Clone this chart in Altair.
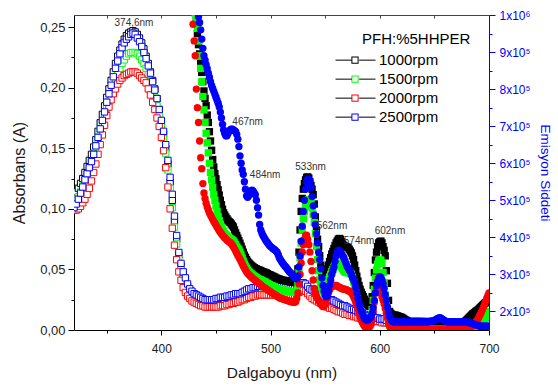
import altair as alt
import pandas as pd

SERIES = ["1000rpm", "1500rpm", "2000rpm", "2500rpm"]
COLORS = ["#000000", "#00FF00", "#FF0000", "#0000FF"]
EM_SHAPES = ["square", "square", "circle", "circle"]

# ---------------- Absorbance (left axis), 320..700 nm step 2 ----------------
abs_wl = list(range(320, 701, 2))
abs_1000 = [
    0.111, 0.114, 0.117, 0.121, 0.125, 0.130, 0.135, 0.140, 0.145, 0.151,
    0.157, 0.164, 0.171, 0.178, 0.185, 0.192, 0.199, 0.206, 0.213, 0.220,
    0.226, 0.231, 0.236, 0.240, 0.243, 0.245, 0.246, 0.247, 0.246, 0.244,
    0.241, 0.237, 0.232, 0.226, 0.220, 0.213, 0.206, 0.199, 0.191, 0.182,
    0.172, 0.162, 0.150, 0.137, 0.122, 0.107, 0.090, 0.075, 0.062, 0.053,
    0.046, 0.041, 0.036, 0.033, 0.030, 0.029, 0.028, 0.027, 0.026, 0.025,
    0.024, 0.024, 0.024, 0.024, 0.024, 0.025, 0.025, 0.025, 0.026, 0.026,
    0.026, 0.027, 0.027, 0.028, 0.028, 0.029, 0.029, 0.030, 0.030, 0.031,
    0.031, 0.032, 0.032, 0.033, 0.033, 0.034, 0.034, 0.034, 0.035, 0.035,
    0.035, 0.035, 0.035, 0.035, 0.035, 0.034, 0.034, 0.034, 0.033, 0.033,
    0.033, 0.034, 0.035, 0.036, 0.037, 0.037, 0.036, 0.034, 0.032, 0.031,
    0.030, 0.029, 0.028, 0.027, 0.026, 0.025, 0.024, 0.023, 0.023, 0.022,
    0.021, 0.020, 0.019, 0.018, 0.018, 0.017, 0.016, 0.016, 0.015, 0.014,
    0.014, 0.013, 0.013, 0.012, 0.011, 0.011, 0.010, 0.010, 0.009, 0.009,
    0.009, 0.008, 0.008, 0.008, 0.008, 0.007, 0.007, 0.007, 0.007, 0.007,
    0.007, 0.007, 0.007, 0.007, 0.007, 0.007, 0.007, 0.007, 0.007, 0.007,
    0.006, 0.006, 0.006, 0.006, 0.006, 0.006, 0.006, 0.006, 0.006, 0.006,
    0.006, 0.006, 0.006, 0.006, 0.006, 0.006, 0.006, 0.006, 0.006, 0.006,
    0.006, 0.006, 0.005, 0.005, 0.005, 0.005, 0.005, 0.005, 0.005, 0.005,
    0.005,
]
abs_1500 = [
    0.104, 0.107, 0.110, 0.114, 0.119, 0.124, 0.129, 0.134, 0.139, 0.145,
    0.151, 0.157, 0.164, 0.170, 0.177, 0.183, 0.189, 0.195, 0.201, 0.206,
    0.211, 0.216, 0.220, 0.223, 0.226, 0.228, 0.229, 0.229, 0.229, 0.228,
    0.226, 0.223, 0.220, 0.216, 0.211, 0.205, 0.199, 0.192, 0.185, 0.177,
    0.168, 0.158, 0.146, 0.132, 0.117, 0.101, 0.085, 0.071, 0.059, 0.050,
    0.043, 0.037, 0.033, 0.030, 0.028, 0.026, 0.025, 0.024, 0.023, 0.022,
    0.021, 0.021, 0.021, 0.021, 0.021, 0.021, 0.022, 0.022, 0.022, 0.023,
    0.023, 0.023, 0.024, 0.024, 0.025, 0.025, 0.026, 0.026, 0.027, 0.028,
    0.028, 0.029, 0.029, 0.030, 0.030, 0.031, 0.031, 0.031, 0.032, 0.032,
    0.032, 0.032, 0.032, 0.032, 0.032, 0.031, 0.031, 0.031, 0.030, 0.030,
    0.030, 0.031, 0.032, 0.033, 0.034, 0.034, 0.033, 0.031, 0.029, 0.028,
    0.027, 0.026, 0.025, 0.024, 0.023, 0.022, 0.021, 0.021, 0.020, 0.019,
    0.018, 0.018, 0.017, 0.016, 0.016, 0.015, 0.014, 0.014, 0.013, 0.013,
    0.012, 0.012, 0.011, 0.011, 0.010, 0.010, 0.009, 0.009, 0.008, 0.008,
    0.008, 0.007, 0.007, 0.007, 0.007, 0.006, 0.006, 0.006, 0.006, 0.006,
    0.006, 0.006, 0.006, 0.006, 0.006, 0.006, 0.006, 0.006, 0.006, 0.006,
    0.005, 0.005, 0.005, 0.005, 0.005, 0.005, 0.005, 0.005, 0.005, 0.005,
    0.005, 0.005, 0.005, 0.005, 0.005, 0.005, 0.005, 0.005, 0.005, 0.005,
    0.005, 0.005, 0.005, 0.004, 0.004, 0.004, 0.004, 0.004, 0.004, 0.004,
    0.004,
]
abs_2000 = [
    0.099, 0.099, 0.100, 0.102, 0.105, 0.108, 0.112, 0.117, 0.123, 0.130,
    0.137, 0.145, 0.153, 0.161, 0.169, 0.177, 0.184, 0.190, 0.195, 0.199,
    0.203, 0.206, 0.208, 0.210, 0.211, 0.212, 0.213, 0.213, 0.213, 0.212,
    0.210, 0.208, 0.206, 0.204, 0.199, 0.194, 0.188, 0.182, 0.175, 0.168,
    0.159, 0.148, 0.134, 0.118, 0.100, 0.084, 0.070, 0.058, 0.048, 0.041,
    0.035, 0.031, 0.028, 0.026, 0.024, 0.023, 0.022, 0.021, 0.020, 0.020,
    0.019, 0.019, 0.019, 0.019, 0.019, 0.019, 0.019, 0.020, 0.020, 0.020,
    0.021, 0.021, 0.022, 0.022, 0.023, 0.023, 0.024, 0.025, 0.025, 0.026,
    0.027, 0.027, 0.028, 0.028, 0.029, 0.029, 0.029, 0.029, 0.029, 0.029,
    0.029, 0.029, 0.029, 0.029, 0.028, 0.028, 0.028, 0.028, 0.028, 0.028,
    0.028, 0.029, 0.030, 0.031, 0.032, 0.033, 0.032, 0.030, 0.028, 0.026,
    0.025, 0.024, 0.023, 0.022, 0.021, 0.020, 0.019, 0.018, 0.018, 0.017,
    0.016, 0.015, 0.015, 0.014, 0.013, 0.013, 0.012, 0.012, 0.011, 0.011,
    0.010, 0.010, 0.009, 0.009, 0.009, 0.008, 0.008, 0.008, 0.007, 0.007,
    0.007, 0.006, 0.006, 0.006, 0.006, 0.006, 0.005, 0.005, 0.005, 0.005,
    0.005, 0.005, 0.005, 0.005, 0.005, 0.005, 0.005, 0.005, 0.005, 0.005,
    0.005, 0.005, 0.005, 0.005, 0.005, 0.005, 0.005, 0.005, 0.005, 0.005,
    0.004, 0.004, 0.004, 0.004, 0.004, 0.004, 0.004, 0.004, 0.004, 0.004,
    0.004, 0.004, 0.004, 0.004, 0.004, 0.004, 0.004, 0.004, 0.004, 0.004,
    0.004,
]
abs_2500 = [
    0.101, 0.104, 0.108, 0.113, 0.118, 0.124, 0.129, 0.134, 0.139, 0.145,
    0.152, 0.159, 0.166, 0.173, 0.180, 0.188, 0.195, 0.202, 0.209, 0.216,
    0.222, 0.228, 0.233, 0.237, 0.240, 0.242, 0.244, 0.245, 0.244, 0.241,
    0.238, 0.234, 0.229, 0.224, 0.218, 0.212, 0.205, 0.198, 0.191, 0.182,
    0.173, 0.164, 0.153, 0.140, 0.126, 0.112, 0.094, 0.078, 0.064, 0.055,
    0.048, 0.043, 0.038, 0.034, 0.032, 0.030, 0.029, 0.028, 0.027, 0.026,
    0.025, 0.025, 0.025, 0.025, 0.025, 0.026, 0.026, 0.027, 0.027, 0.027,
    0.028, 0.028, 0.029, 0.029, 0.030, 0.030, 0.030, 0.031, 0.032, 0.033,
    0.034, 0.034, 0.035, 0.035, 0.036, 0.036, 0.036, 0.037, 0.037, 0.037,
    0.037, 0.037, 0.037, 0.037, 0.037, 0.036, 0.036, 0.036, 0.035, 0.035,
    0.035, 0.036, 0.037, 0.038, 0.039, 0.039, 0.038, 0.036, 0.034, 0.033,
    0.032, 0.031, 0.030, 0.029, 0.028, 0.027, 0.026, 0.025, 0.025, 0.024,
    0.023, 0.022, 0.021, 0.020, 0.020, 0.019, 0.018, 0.017, 0.017, 0.016,
    0.015, 0.014, 0.014, 0.013, 0.012, 0.012, 0.011, 0.011, 0.010, 0.010,
    0.009, 0.009, 0.009, 0.008, 0.008, 0.008, 0.008, 0.008, 0.007, 0.007,
    0.007, 0.007, 0.007, 0.007, 0.007, 0.007, 0.007, 0.007, 0.007, 0.007,
    0.007, 0.007, 0.007, 0.006, 0.006, 0.006, 0.006, 0.006, 0.006, 0.006,
    0.006, 0.006, 0.006, 0.006, 0.006, 0.006, 0.006, 0.006, 0.006, 0.006,
    0.006, 0.006, 0.006, 0.005, 0.005, 0.005, 0.005, 0.005, 0.005, 0.005,
    0.005,
]

# ---------------- Emission (right axis), 421..700 nm step 1, units of 1e5 ----------------
em_wl = list(range(421, 701))
em_1000 = [
    13.0, 12.8, 12.6, 12.4, 12.2, 12.0, 11.7, 11.4, 11.0, 10.6,
    10.2, 9.85, 9.5, 9.2, 8.95, 8.7, 8.45, 8.2, 7.95, 7.75,
    7.55, 7.3, 7.1, 6.85, 6.6, 6.35, 6.1, 5.9, 5.72, 5.58,
    5.42, 5.28, 5.14, 5.0, 4.88, 4.76, 4.66, 4.6, 4.55, 4.5,
    4.46, 4.42, 4.4, 4.36, 4.32, 4.28, 4.2, 4.12, 4.05, 3.98,
    3.91, 3.84, 3.76, 3.68, 3.6, 3.52, 3.46, 3.4, 3.35, 3.31,
    3.28, 3.25, 3.22, 3.2, 3.18, 3.16, 3.15, 3.13, 3.12, 3.11,
    3.1, 3.08, 3.07, 3.06, 3.05, 3.04, 3.02, 3.0, 2.99, 2.98,
    2.96, 2.95, 2.94, 2.92, 2.9, 2.89, 2.88, 2.87, 2.86, 2.85,
    2.84, 2.84, 2.83, 2.83, 2.82, 2.82, 2.81, 2.8, 2.8, 2.79,
    2.79, 2.78, 2.8, 2.9, 3.15, 3.6, 4.2, 4.7, 5.05, 5.3,
    5.45, 5.55, 5.62, 5.63, 5.6, 5.5, 5.4, 5.3, 5.15, 4.9,
    4.55, 4.2, 3.95, 3.75, 3.5, 3.25, 3.05, 2.95, 2.92, 2.95,
    3.05, 3.15, 3.25, 3.35, 3.45, 3.55, 3.62, 3.7, 3.78, 3.85,
    3.9, 3.95, 3.97, 3.95, 3.88, 3.82, 3.78, 3.76, 3.75, 3.74,
    3.72, 3.68, 3.63, 3.58, 3.5, 3.4, 3.25, 3.1, 2.95, 2.82,
    2.7, 2.6, 2.52, 2.45, 2.4, 2.33, 2.27, 2.22, 2.18, 2.15,
    2.14, 2.2, 2.4, 2.7, 3.05, 3.39, 3.6, 3.75, 3.85, 3.88,
    3.9, 3.85, 3.75, 3.65, 3.5, 3.1, 2.76, 2.3, 2.0, 1.95,
    1.92, 1.9, 1.9, 1.9, 1.89, 1.88, 1.87, 1.86, 1.85, 1.84,
    1.82, 1.8, 1.78, 1.76, 1.74, 1.72, 1.7, 1.68, 1.66, 1.65,
    1.64, 1.63, 1.62, 1.61, 1.6, 1.6, 1.6, 1.6, 1.6, 1.6,
    1.6, 1.6, 1.6, 1.6, 1.6, 1.6, 1.6, 1.6, 1.6, 1.6,
    1.6, 1.6, 1.6, 1.6, 1.6, 1.6, 1.6, 1.6, 1.6, 1.6,
    1.6, 1.6, 1.6, 1.6, 1.6, 1.6, 1.6, 1.6, 1.6, 1.6,
    1.6, 1.61, 1.62, 1.63, 1.65, 1.67, 1.69, 1.72, 1.75, 1.78,
    1.81, 1.84, 1.87, 1.9, 1.93, 1.95, 1.97, 2.0, 2.02, 2.04,
    2.07, 2.1, 2.13, 2.16, 2.19, 2.22, 2.24, 2.27, 2.29, 2.3,
]
em_1500 = [
    13.0, 12.7, 12.4, 12.1, 11.8, 11.5, 11.2, 10.9, 10.6, 10.3,
    10.05, 9.85, 9.64, 9.3, 8.9, 8.56, 8.2, 7.8, 7.44, 7.1,
    6.81, 6.55, 6.28, 6.0, 5.75, 5.55, 5.35, 5.15, 5.0, 4.85,
    4.7, 4.56, 4.45, 4.35, 4.27, 4.2, 4.15, 4.1, 4.07, 4.04,
    4.01, 3.98, 3.96, 3.94, 3.92, 3.9, 3.85, 3.8, 3.74, 3.7,
    3.66, 3.6, 3.52, 3.44, 3.36, 3.28, 3.22, 3.17, 3.12, 3.08,
    3.05, 3.02, 3.0, 2.97, 2.95, 2.93, 2.91, 2.89, 2.87, 2.86,
    2.85, 2.83, 2.82, 2.8, 2.79, 2.77, 2.75, 2.73, 2.72, 2.7,
    2.69, 2.68, 2.66, 2.64, 2.63, 2.62, 2.61, 2.6, 2.59, 2.58,
    2.57, 2.57, 2.56, 2.56, 2.55, 2.55, 2.54, 2.54, 2.53, 2.53,
    2.53, 2.52, 2.52, 2.55, 2.75, 3.05, 3.45, 3.85, 4.2, 4.5,
    4.7, 4.85, 4.95, 5.0, 5.02, 5.0, 4.92, 4.8, 4.62, 4.4,
    4.1, 3.75, 3.4, 3.1, 2.85, 2.68, 2.58, 2.55, 2.56, 2.62,
    2.7, 2.78, 2.86, 2.93, 3.0, 3.07, 3.13, 3.19, 3.24, 3.28,
    3.3, 3.3, 3.28, 3.24, 3.2, 3.15, 3.1, 3.07, 3.06, 3.05,
    3.05, 3.04, 3.03, 3.0, 2.92, 2.8, 2.65, 2.5, 2.35, 2.2,
    2.1, 2.0, 1.92, 1.86, 1.8, 1.75, 1.71, 1.68, 1.68, 1.7,
    1.74, 1.85, 2.05, 2.3, 2.6, 2.9, 3.12, 3.28, 3.36, 3.39,
    3.38, 3.3, 3.05, 2.76, 2.45, 2.15, 1.9, 1.72, 1.62, 1.57,
    1.55, 1.55, 1.55, 1.55, 1.55, 1.55, 1.55, 1.55, 1.55, 1.55,
    1.54, 1.54, 1.54, 1.54, 1.54, 1.54, 1.54, 1.54, 1.54, 1.54,
    1.53, 1.53, 1.53, 1.53, 1.53, 1.53, 1.53, 1.53, 1.53, 1.53,
    1.53, 1.53, 1.53, 1.53, 1.53, 1.53, 1.53, 1.53, 1.53, 1.53,
    1.53, 1.53, 1.53, 1.53, 1.53, 1.53, 1.53, 1.53, 1.53, 1.53,
    1.53, 1.53, 1.53, 1.53, 1.53, 1.53, 1.53, 1.53, 1.53, 1.53,
    1.53, 1.53, 1.53, 1.53, 1.53, 1.53, 1.53, 1.53, 1.53, 1.53,
    1.53, 1.53, 1.53, 1.53, 1.53, 1.53, 1.54, 1.55, 1.57, 1.59,
    1.62, 1.65, 1.68, 1.72, 1.76, 1.8, 1.85, 1.9, 1.95, 2.0,
]
em_2000 = [
    12.5, 12.2, 11.9, 11.6, 11.3, 11.0, 10.7, 10.35, 9.75, 9.3,
    8.9, 8.0, 7.5, 7.1, 6.6, 6.15, 5.85, 5.45, 5.2, 5.05,
    4.92, 4.82, 4.74, 4.66, 4.6, 4.54, 4.48, 4.43, 4.38, 4.33,
    4.28, 4.23, 4.18, 4.14, 4.1, 4.06, 4.02, 3.99, 3.96, 3.93,
    3.9, 3.88, 3.86, 3.83, 3.79, 3.74, 3.69, 3.63, 3.57, 3.51,
    3.46, 3.41, 3.35, 3.29, 3.23, 3.17, 3.12, 3.07, 3.03, 3.0,
    2.97, 2.94, 2.91, 2.89, 2.86, 2.84, 2.81, 2.79, 2.76, 2.74,
    2.72, 2.69, 2.67, 2.65, 2.63, 2.61, 2.59, 2.57, 2.55, 2.53,
    2.51, 2.49, 2.47, 2.45, 2.43, 2.41, 2.39, 2.38, 2.36, 2.35,
    2.34, 2.33, 2.32, 2.31, 2.3, 2.29, 2.28, 2.27, 2.26, 2.26,
    2.25, 2.25, 2.26, 2.35, 2.5, 2.75, 3.0, 3.3, 3.6, 3.8,
    3.95, 4.05, 4.06, 3.95, 3.8, 3.6, 3.35, 3.1, 2.85, 2.62,
    2.5, 2.4, 2.34, 2.3, 2.25, 2.2, 2.16, 2.13, 2.14, 2.2,
    2.3, 2.4, 2.5, 2.58, 2.64, 2.67, 2.69, 2.7, 2.7, 2.7,
    2.69, 2.67, 2.65, 2.64, 2.62, 2.61, 2.6, 2.6, 2.59, 2.58,
    2.56, 2.55, 2.53, 2.5, 2.46, 2.4, 2.33, 2.25, 2.15, 2.05,
    1.95, 1.85, 1.77, 1.7, 1.65, 1.6, 1.57, 1.56, 1.56, 1.56,
    1.6, 1.65, 1.8, 2.0, 2.25, 2.5, 2.62, 2.67, 2.66, 2.6,
    2.5, 2.4, 2.3, 2.2, 2.08, 1.95, 1.82, 1.68, 1.6, 1.55,
    1.53, 1.53, 1.53, 1.53, 1.53, 1.53, 1.53, 1.53, 1.53, 1.53,
    1.52, 1.52, 1.52, 1.52, 1.52, 1.52, 1.52, 1.52, 1.52, 1.52,
    1.52, 1.52, 1.52, 1.52, 1.52, 1.52, 1.52, 1.52, 1.52, 1.52,
    1.52, 1.52, 1.52, 1.52, 1.52, 1.52, 1.52, 1.52, 1.52, 1.52,
    1.52, 1.52, 1.52, 1.52, 1.52, 1.52, 1.52, 1.52, 1.52, 1.52,
    1.52, 1.52, 1.52, 1.52, 1.52, 1.52, 1.52, 1.52, 1.52, 1.52,
    1.52, 1.52, 1.52, 1.52, 1.52, 1.52, 1.52, 1.52, 1.52, 1.52,
    1.53, 1.55, 1.57, 1.59, 1.62, 1.65, 1.68, 1.72, 1.76, 1.8,
    1.86, 1.92, 1.98, 2.05, 2.12, 2.2, 2.28, 2.36, 2.43, 2.5,
]
em_2500 = [
    13.5, 13.2, 12.9, 12.6, 12.3, 12.0, 11.6, 11.3, 11.0, 10.75,
    10.5, 10.3, 10.1, 9.95, 9.8, 9.6, 9.35, 9.1, 8.9, 8.78,
    8.66, 8.55, 8.43, 8.32, 8.2, 8.1, 8.02, 7.94, 7.86, 7.78,
    7.7, 7.62, 7.52, 7.38, 7.22, 7.05, 6.9, 6.8, 6.74, 6.74,
    6.8, 6.86, 6.9, 6.92, 6.92, 6.9, 6.88, 6.85, 6.78, 6.65,
    6.45, 6.2, 6.0, 5.82, 5.7, 5.5, 5.3, 5.12, 5.08, 5.12,
    5.2, 5.25, 5.27, 5.25, 5.2, 5.15, 5.0, 4.8, 4.6, 4.35,
    4.2, 4.12, 4.05, 4.0, 3.95, 3.9, 3.86, 3.82, 3.78, 3.75,
    3.73, 3.7, 3.68, 3.66, 3.63, 3.6, 3.53, 3.45, 3.4, 3.35,
    3.31, 3.27, 3.23, 3.2, 3.16, 3.12, 3.08, 3.05, 3.02, 3.0,
    2.96, 2.92, 2.9, 2.88, 2.95, 3.2, 3.5, 3.9, 4.3, 4.7,
    5.0, 5.3, 5.5, 5.57, 5.58, 5.52, 5.35, 5.1, 4.85, 4.6,
    4.35, 4.1, 3.85, 3.6, 3.4, 3.15, 2.9, 2.7, 2.55, 2.45,
    2.4, 2.42, 2.55, 2.7, 2.85, 3.0, 3.1, 3.2, 3.35, 3.5,
    3.6, 3.65, 3.65, 3.6, 3.55, 3.5, 3.45, 3.38, 3.3, 3.22,
    3.17, 3.12, 3.08, 3.0, 2.92, 2.85, 2.78, 2.65, 2.5, 2.35,
    2.22, 2.12, 2.02, 1.95, 1.88, 1.82, 1.78, 1.77, 1.77, 1.8,
    1.83, 1.86, 1.95, 2.1, 2.3, 2.5, 2.7, 2.82, 2.9, 2.94,
    2.92, 2.85, 2.75, 2.62, 2.45, 2.3, 2.13, 1.98, 1.86, 1.78,
    1.74, 1.73, 1.72, 1.72, 1.72, 1.72, 1.72, 1.72, 1.72, 1.72,
    1.72, 1.72, 1.72, 1.72, 1.72, 1.72, 1.72, 1.72, 1.72, 1.72,
    1.72, 1.72, 1.72, 1.72, 1.72, 1.72, 1.72, 1.72, 1.72, 1.72,
    1.72, 1.72, 1.72, 1.72, 1.73, 1.73, 1.74, 1.74, 1.75, 1.76,
    1.77, 1.79, 1.81, 1.82, 1.83, 1.82, 1.8, 1.78, 1.76, 1.74,
    1.73, 1.72, 1.72, 1.72, 1.72, 1.72, 1.72, 1.72, 1.72, 1.72,
    1.72, 1.72, 1.72, 1.72, 1.72, 1.72, 1.72, 1.72, 1.72, 1.72,
    1.71, 1.7, 1.69, 1.68, 1.67, 1.66, 1.65, 1.64, 1.63, 1.62,
    1.61, 1.6, 1.6, 1.6, 1.6, 1.6, 1.6, 1.6, 1.6, 1.6,
]

# ---------------- Peak annotations ----------------
ann_text = ["374,6nm", "467nm", "484nm", "533nm", "562nm", "574nm", "602nm"]
ann_wl = [374.9, 479.0, 495.0, 536.6, 556.2, 581.0, 609.3]
ann_val = [9.78, 7.11, 5.68, 5.89, 4.30, 3.90, 4.17]  # 1e5 units

LEFT_TICKS = [0, 0.025, 0.05, 0.075, 0.1, 0.125, 0.15, 0.175, 0.2, 0.225, 0.25]
RIGHT_TICKS = [200000, 250000, 300000, 350000, 400000, 450000, 500000, 550000,
               600000, 650000, 700000, 750000, 800000, 850000, 900000, 950000, 1000000]
X_TICKS = [350, 400, 450, 500, 550, 600, 650, 700]
LEGEND_TITLE = "PFH:%5HHPER"

# ---------------- Build tables ----------------
abs_series = [abs_1000, abs_1500, abs_2000, abs_2500]
em_series = [em_1000, em_1500, em_2000, em_2500]
rows = []
for name, vals in zip(SERIES, abs_series):
    assert len(vals) == len(abs_wl), (name, len(vals))
    for w, v in zip(abs_wl, vals):
        rows.append({"wl": w, "value": v, "series": name})
abs_df = pd.DataFrame(rows)

rows = []
for name, vals in zip(SERIES, em_series):
    assert len(vals) == len(em_wl), (name, len(vals))
    for w, v in zip(em_wl, vals):
        rows.append({"wl": w, "value": v * 1e5, "series": name})
em_df = pd.DataFrame(rows)

ann_df = pd.DataFrame({"label": ann_text, "wl": ann_wl, "value": [v * 1e5 for v in ann_val]})
leg_df = pd.DataFrame({"series2": SERIES})
title_df = pd.DataFrame({"t": [LEGEND_TITLE]})

FONT = "Liberation Sans"
BLUE = "#0000FF"
# hollow square drawn as a filled ring (outer clockwise, inner counter-clockwise)
SQUARE_PATH = "M-0.18,-0.18H0.18V0.18H-0.18Z M-0.13,-0.13V0.13H0.13V-0.13Z"
LINE_PATH = "M-1,0H-0.18M0.18,0H1"

x_scale = alt.Scale(domain=[320, 700], nice=False, zero=False)
em_scale = alt.Scale(domain=[150000, 1000000], nice=False, zero=False)
color_scale = alt.Scale(domain=SERIES, range=COLORS)

common_legend = dict(
    orient="none", symbolSize=1600, clipHeight=16.3,
    rowPadding=2, labelFontSize=15, titleFontSize=15, titleFontWeight="normal",
    labelOffset=4, padding=0, titlePadding=5, labelFont=FONT, titleFont=FONT,
)
# coloured open squares + labels (no title; rows start below the title)
legend_a = alt.Legend(title=None, legendX=261, legendY=37, symbolType=SQUARE_PATH,
                      symbolStrokeWidth=0, labelColor="black",
                      **common_legend)
# black line pieces on either side of the squares
legend_b = alt.Legend(title=None, legendX=261, legendY=37, symbolType=LINE_PATH,
                      symbolStrokeWidth=1, symbolStrokeColor="black",
                      symbolFillColor="transparent", symbolOpacity=1, labelOpacity=0,
                      **common_legend)
# the visible title, offset to the right like in the original (single hidden entry)
legend_c = alt.Legend(title=LEGEND_TITLE, legendX=288, legendY=17, symbolOpacity=0,
                      labelOpacity=0, symbolStrokeColor="transparent",
                      symbolFillColor="transparent", titleColor="black", **common_legend)

bottom_axis = alt.Axis(
    orient="bottom", values=X_TICKS,
    labelExpr="datum.value % 100 == 0 ? datum.label : ''",
    tickSize={"condition": {"test": "datum.value % 100 == 0", "value": 5}, "value": 3},
    title="Dalgaboyu (nm)", titleFontSize=15.5, titleFontWeight="normal", titlePadding=11,
    labelFontSize=12, labelPadding=8, labelFlush=False, labelOverlap=False,
    domainColor="black", tickColor="black", labelColor="#1a1a1a", titleColor="#1a1a1a",
    grid=False, labelFont=FONT, titleFont=FONT,
)
top_axis = alt.Axis(
    orient="top", values=X_TICKS, labels=False, title=None, tickSize={"expr": "-3"},
    domainColor="#444444", tickColor="#444444", grid=False,
)
left_axis = alt.Axis(
    orient="left", values=LEFT_TICKS,
    labelExpr="round(datum.value*1000) % 50 == 0 ? replace(format(datum.value, '.2f'), '.', ',') : ''",
    tickSize={"condition": {"test": "round(datum.value*1000) % 50 == 0", "value": 6}, "value": 3},
    title="Absorbans (A)", titleFontSize=16, titleFontWeight="normal", titlePadding=12,
    labelFontSize=13, labelPadding=3, labelOverlap=False,
    domainColor="black", tickColor="black", labelColor="#1a1a1a", titleColor="#1a1a1a",
    grid=False, labelFont=FONT, titleFont=FONT,
)
right_axis = alt.Axis(
    orient="right", values=RIGHT_TICKS,
    labelExpr="datum.value >= 1000000 ? '1x10\u2076' : (round(datum.value/10000) % 10 == 0 ? format(datum.value/100000, 'd') + 'x10\u2075' : '')",
    tickSize={"condition": {"test": "round(datum.value/10000) % 10 == 0", "value": 6}, "value": 3},
    title="Emisyon Siddeti", titleFontSize=13.5, titleFontWeight="normal", titlePadding=8,
    titleAngle=90, labelFontSize=12, labelPadding=4, labelOverlap=False,
    domainColor=BLUE, tickColor=BLUE, labelColor=BLUE, titleColor=BLUE,
    grid=False, labelFont=FONT, titleFont=FONT,
)

abs_chart = alt.Chart(abs_df).mark_point(
    shape="square", filled=False, fill="white", size=40, strokeWidth=1, opacity=1, clip=True
).encode(
    x=alt.X("wl:Q", scale=x_scale, axis=bottom_axis),
    y=alt.Y("value:Q", scale=alt.Scale(domain=[0, 0.26], nice=False), axis=left_axis),
    stroke=alt.Stroke("series:N", scale=color_scale, legend=legend_a),
)

em_chart = alt.Chart(em_df).mark_point(
    filled=True, size=54, opacity=1, clip=True
).encode(
    x=alt.X("wl:Q", scale=x_scale, axis=top_axis),
    y=alt.Y("value:Q", scale=em_scale, axis=right_axis),
    color=alt.Color("series:N", scale=color_scale, legend=None),
    shape=alt.Shape("series:N", scale=alt.Scale(domain=SERIES, range=EM_SHAPES), legend=None),
)

text_chart = alt.Chart(ann_df).mark_text(
    fontSize=10, color="#333333", font=FONT, align="center", baseline="middle"
).encode(
    x=alt.X("wl:Q", scale=x_scale, axis=None),
    y=alt.Y("value:Q", scale=em_scale, axis=None),
    text="label:N",
)

legend_chart = alt.Chart(leg_df).mark_point(opacity=0, color="black", filled=False).encode(
    shape=alt.Shape("series2:N", scale=alt.Scale(domain=SERIES, range=[LINE_PATH] * 4),
                    legend=legend_b),
)

title_chart = alt.Chart(title_df).mark_point(
    filled=False, color="transparent", size=0, strokeWidth=0
).encode(
    opacity=alt.Opacity("t:N", scale=alt.Scale(domain=[LEGEND_TITLE], range=[0, 0]),
                        legend=legend_c),
)

chart = alt.layer(abs_chart, em_chart, text_chart, legend_chart, title_chart).resolve_scale(
    y="independent", shape="independent"
).resolve_axis(
    x="independent"
).properties(
    width=415, height=315,
    autosize=alt.AutoSizeParams(type="none"),
    padding={"left": 74, "top": 15, "right": 69, "bottom": 57},
    background="white",
).configure_view(strokeWidth=0)

chart.save("out.html", embed_options={"renderer": "svg", "actions": False})
